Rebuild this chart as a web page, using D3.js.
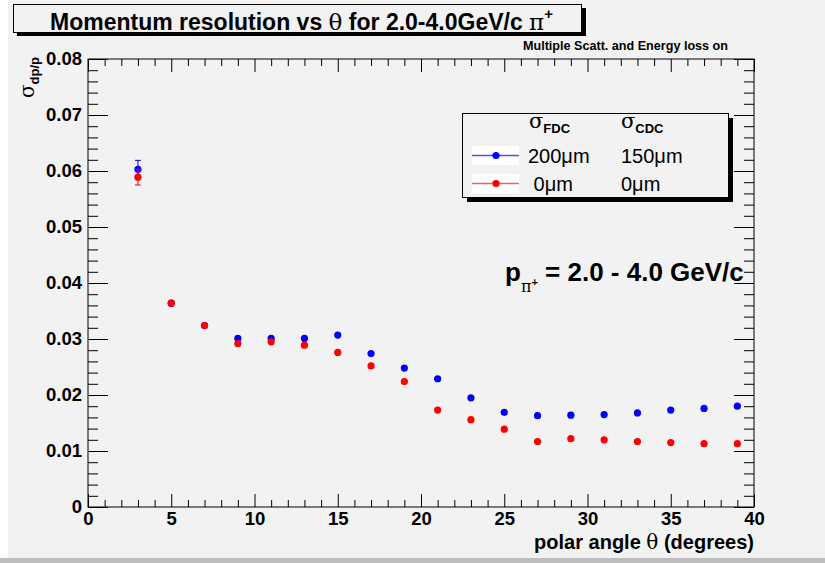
<!DOCTYPE html>
<html><head><meta charset="utf-8">
<script src="https://cdn.jsdelivr.net/npm/d3@7"></script>
<style>body{margin:0;background:#fff;} svg{display:block;} text{font-family:"Liberation Sans",Arial,Helvetica,sans-serif;}</style>
</head><body>
<svg id="c" width="825" height="563"></svg>
<script>
const thetaValues = [3,5,7,9,11,13,15,17,19,21,23,25,27,29,31,33,35,37,39];
const blueValues = [0.0603,0.0364,0.0324,0.0301,0.0301,0.0301,0.0307,0.0274,0.0248,0.0229,0.0195,0.0169,0.0163,0.0164,0.0165,0.0168,0.0173,0.0176,0.0180];
const blueErrors = [0.0016,0,0,0,0,0,0,0,0,0,0,0,0,0,0,0,0,0,0];
const redValues  = [0.0589,0.0364,0.0324,0.0292,0.0295,0.0289,0.0276,0.0252,0.0224,0.0173,0.0156,0.0139,0.0117,0.0122,0.0120,0.0117,0.0115,0.0113,0.0113];
const redErrors  = [0.0014,0,0,0,0,0,0,0,0,0,0,0,0,0,0,0,0,0,0];
const xMajorTicks = [0,5,10,15,20,25,30,35,40];
const yMajorTicks = [0,0.01,0.02,0.03,0.04,0.05,0.06,0.07,0.08];
const legendHeaders = ["FDC","CDC"];
const legendRows = [["200\u03bcm","150\u03bcm"],[" 0\u03bcm","0\u03bcm"]];

const svg = d3.select("#c");
const W=825,H=563;
const L=88,R=754,T=59,B=507;
const x = d3.scaleLinear().domain([0,40]).range([L,R]);
const y = d3.scaleLinear().domain([0,0.08]).range([B,T]);
const BG="#f2f2f2";

// canvas
svg.append("rect").attr("x",0).attr("y",0).attr("width",W).attr("height",H).attr("fill","#fff");
svg.append("rect").attr("x",8).attr("y",0).attr("width",W-8).attr("height",558).attr("fill",BG);
svg.append("rect").attr("x",0).attr("y",558).attr("width",W).attr("height",5).attr("fill","#bdbdbd");

// title box
svg.append("rect").attr("x",17).attr("y",8).attr("width",569).attr("height",28).attr("fill","#000");
svg.append("rect").attr("x",13.5).attr("y",4.5).attr("width",568).attr("height",28).attr("fill",BG).attr("stroke","#000").attr("stroke-width",1);
const tt = svg.append("text").attr("x",50).attr("y",30).attr("font-size",23).attr("font-weight","bold");
tt.append("tspan").text("Momentum resolution vs ");
tt.append("tspan").attr("font-family","'DejaVu Serif',serif").attr("font-weight","normal").text("\u03b8");
tt.append("tspan").text(" for 2.0-4.0GeV/c ");
tt.append("tspan").attr("font-family","'DejaVu Serif',serif").attr("font-weight","normal").text("\u03c0");
tt.append("tspan").attr("dy",-11).attr("font-size",15).text("+");

svg.append("text").attr("x",728).attr("y",50).attr("text-anchor","end").attr("font-size",12.6).attr("font-weight","bold").text("Multiple Scatt. and Energy loss on");

// frame
svg.append("rect").attr("x",L).attr("y",T).attr("width",R-L).attr("height",B-T).attr("fill",BG).attr("stroke","#000").attr("stroke-width",1);

const xMinor = d3.range(0,41,1).filter(v=>v%5!==0);
const yMinor = d3.range(0,81,2).filter(v=>v%10!==0).map(v=>v/1000);
const fmtY = v => v===0 ? "0" : d3.format(".2f")(v);

function styleAxis(g){ g.select(".domain").remove(); g.selectAll("line").attr("stroke","#000"); g.selectAll("text").attr("font-size",18.5).attr("font-weight","bold").attr("fill","#000").attr("font-family","'Liberation Sans',Arial,sans-serif"); }

svg.append("g").attr("transform",`translate(0,${B})`).call(d3.axisBottom(x).tickValues(xMajorTicks).tickSize(-13).tickPadding(5).tickFormat(d3.format("d"))).call(styleAxis);
svg.append("g").attr("transform",`translate(0,${B})`).call(d3.axisBottom(x).tickValues(xMinor).tickSize(-7).tickFormat("")).call(styleAxis);
svg.append("g").attr("transform",`translate(0,${T})`).call(d3.axisTop(x).tickValues(xMajorTicks).tickSize(-13).tickFormat("")).call(styleAxis);
svg.append("g").attr("transform",`translate(0,${T})`).call(d3.axisTop(x).tickValues(xMinor).tickSize(-7).tickFormat("")).call(styleAxis);
svg.append("g").attr("transform",`translate(${L},0)`).call(d3.axisLeft(y).tickValues(yMajorTicks).tickSize(-20).tickPadding(6).tickFormat(fmtY)).call(styleAxis);
svg.append("g").attr("transform",`translate(${L},0)`).call(d3.axisLeft(y).tickValues(yMinor).tickSize(-10).tickFormat("")).call(styleAxis);
svg.append("g").attr("transform",`translate(${R},0)`).call(d3.axisRight(y).tickValues(yMajorTicks).tickSize(-20).tickFormat("")).call(styleAxis);
svg.append("g").attr("transform",`translate(${R},0)`).call(d3.axisRight(y).tickValues(yMinor).tickSize(-10).tickFormat("")).call(styleAxis);

// axis titles
svg.append("text").attr("x",R).attr("y",549).attr("text-anchor","end").attr("font-size",20).attr("font-weight","bold")
  .html('polar angle <tspan font-family="\'DejaVu Serif\',serif" font-weight="normal">\u03b8</tspan> (degrees)');
const yt = svg.append("text").attr("transform","translate(34,57) rotate(-90)").attr("text-anchor","end");
yt.append("tspan").attr("font-size",20).attr("font-family","'DejaVu Serif',serif").text("\u03c3");
yt.append("tspan").attr("dy",5).attr("font-size",13).attr("font-weight","bold").text("dp/p");

// data
function drawSeries(vals, errs, color){
  const g = svg.append("g");
  const idx = d3.range(vals.length);
  g.selectAll("line.e").data(idx.filter(i=>errs[i]>0)).join("line")
    .attr("x1",i=>x(thetaValues[i])).attr("x2",i=>x(thetaValues[i]))
    .attr("y1",i=>y(vals[i]-errs[i])).attr("y2",i=>y(vals[i]+errs[i])).attr("stroke",color);
  [-1,1].forEach(s=>{
    g.selectAll("line.c"+s).data(idx.filter(i=>errs[i]>0)).join("line")
      .attr("x1",i=>x(thetaValues[i])-3).attr("x2",i=>x(thetaValues[i])+3)
      .attr("y1",i=>y(vals[i]+s*errs[i])).attr("y2",i=>y(vals[i]+s*errs[i])).attr("stroke",color);
  });
  g.selectAll("circle").data(idx).join("circle")
    .attr("cx",i=>x(thetaValues[i])).attr("cy",i=>y(vals[i])).attr("r",3.6).attr("fill",color);
}
drawSeries(blueValues, blueErrors, "#0000ff");
drawSeries(redValues, redErrors, "#ff0000");

// legend
svg.append("rect").attr("x",467).attr("y",118).attr("width",266).attr("height",84).attr("fill","#000");
svg.append("rect").attr("x",462.5).attr("y",113.5).attr("width",266).attr("height",84).attr("fill",BG).attr("stroke","#000");
const colX=[529,621];
legendHeaders.forEach((h,j)=>{
  const t=svg.append("text").attr("x",colX[j]).attr("y",128);
  t.append("tspan").attr("font-size",21).attr("font-family","'DejaVu Serif',serif").text("\u03c3");
  t.append("tspan").attr("dy",5).attr("font-size",13).attr("font-weight","bold").text(h);
});
const rowY=[155.5,183.5], rowColors=["#4d4dff","#ff5a5a"], rowMark=["#0000ff","#ff0000"];
legendRows.forEach((r,i)=>{
  svg.append("rect").attr("x",472).attr("y",rowY[i]-9.5).attr("width",47).attr("height",19).attr("fill","#fff");
  svg.append("line").attr("x1",472).attr("x2",519).attr("y1",rowY[i]).attr("y2",rowY[i]).attr("stroke",rowColors[i]).attr("stroke-width",1.5);
  svg.append("circle").attr("cx",496).attr("cy",rowY[i]).attr("r",3.6).attr("fill",rowMark[i]);
  r.forEach((s,j)=>{
    svg.append("text").attr("x",j===0?528:621).attr("y",rowY[i]+7).attr("font-size",20).attr("xml:space","preserve").style("white-space","pre").text(s);
  });
});

// momentum label
const pl = svg.append("text").attr("x",505).attr("y",281).attr("font-size",26).attr("font-weight","bold");
pl.append("tspan").text("p");
pl.append("tspan").attr("dy",11).attr("font-size",16).attr("font-family","'DejaVu Serif',serif").attr("font-weight","normal").text("\u03c0");
pl.append("tspan").attr("dy",-6).attr("font-size",11).text("+");
pl.append("tspan").attr("dy",-5).text(" = 2.0 - 4.0 GeV/c");
</script>
</body></html>
